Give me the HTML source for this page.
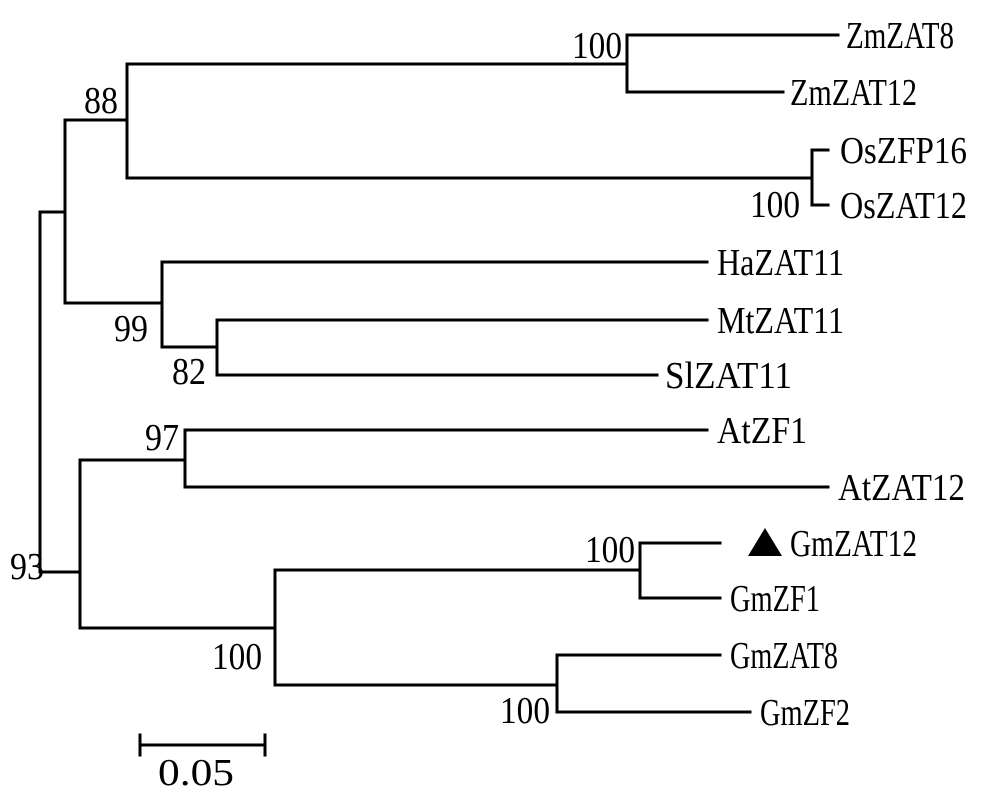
<!DOCTYPE html>
<html><head><style>html,body{margin:0;padding:0;background:#fff}svg{display:block}</style></head>
<body>
<svg width="1000" height="792" viewBox="0 0 1000 792" xmlns="http://www.w3.org/2000/svg">
<g stroke="#000" stroke-width="3" fill="none" stroke-linecap="square">
<path d="M627 35H838M627 35V92H783"/>
<path d="M812 150H828M812 150V205H828"/>
<path d="M127 64H627M127 64V178H812"/>
<path d="M65 120H127M65 120V303H162"/>
<path d="M162 262H707M162 262V347H217"/>
<path d="M217 320H707M217 320V375H657"/>
<path d="M40 212H65M40 212V572H80"/>
<path d="M80 460H185M80 460V628H275"/>
<path d="M185 430H707M185 430V487H828"/>
<path d="M275 570H640M275 570V685H557"/>
<path d="M640 543H720M640 543V598H720"/>
<path d="M557 655H720M557 655V712H750"/>
<path d="M140 745H265M140 735V755M265 735V755"/>
</g>
<polygon points="748,556 765,528 782,556" fill="#000"/>
<g font-family="Liberation Serif, serif" font-size="38" fill="#000">
<text x="846" y="48" textLength="108" lengthAdjust="spacingAndGlyphs">ZmZAT8</text>
<text x="790" y="105" textLength="127" lengthAdjust="spacingAndGlyphs">ZmZAT12</text>
<text x="840" y="163" textLength="127" lengthAdjust="spacingAndGlyphs">OsZFP16</text>
<text x="840" y="218" textLength="127" lengthAdjust="spacingAndGlyphs">OsZAT12</text>
<text x="717" y="275" textLength="127" lengthAdjust="spacingAndGlyphs">HaZAT11</text>
<text x="717" y="333" textLength="127" lengthAdjust="spacingAndGlyphs">MtZAT11</text>
<text x="665" y="388" textLength="127" lengthAdjust="spacingAndGlyphs">SlZAT11</text>
<text x="717" y="443" textLength="90" lengthAdjust="spacingAndGlyphs">AtZF1</text>
<text x="838" y="500" textLength="127" lengthAdjust="spacingAndGlyphs">AtZAT12</text>
<text x="790" y="556" textLength="127" lengthAdjust="spacingAndGlyphs">GmZAT12</text>
<text x="730" y="611" textLength="90" lengthAdjust="spacingAndGlyphs">GmZF1</text>
<text x="730" y="668" textLength="108" lengthAdjust="spacingAndGlyphs">GmZAT8</text>
<text x="760" y="725" textLength="90" lengthAdjust="spacingAndGlyphs">GmZF2</text>
<text x="572" y="58" textLength="50" lengthAdjust="spacingAndGlyphs">100</text>
<text x="750" y="217" textLength="50" lengthAdjust="spacingAndGlyphs">100</text>
<text x="84" y="113" textLength="34" lengthAdjust="spacingAndGlyphs">88</text>
<text x="114" y="341" textLength="34" lengthAdjust="spacingAndGlyphs">99</text>
<text x="172" y="384" textLength="34" lengthAdjust="spacingAndGlyphs">82</text>
<text x="145" y="450" textLength="34" lengthAdjust="spacingAndGlyphs">97</text>
<text x="10" y="579" textLength="34" lengthAdjust="spacingAndGlyphs">93</text>
<text x="585" y="562" textLength="50" lengthAdjust="spacingAndGlyphs">100</text>
<text x="212" y="669" textLength="50" lengthAdjust="spacingAndGlyphs">100</text>
<text x="500" y="723" textLength="50" lengthAdjust="spacingAndGlyphs">100</text>
<text x="158" y="785" textLength="76" lengthAdjust="spacingAndGlyphs">0.05</text>
</g>
</svg>
</body></html>
